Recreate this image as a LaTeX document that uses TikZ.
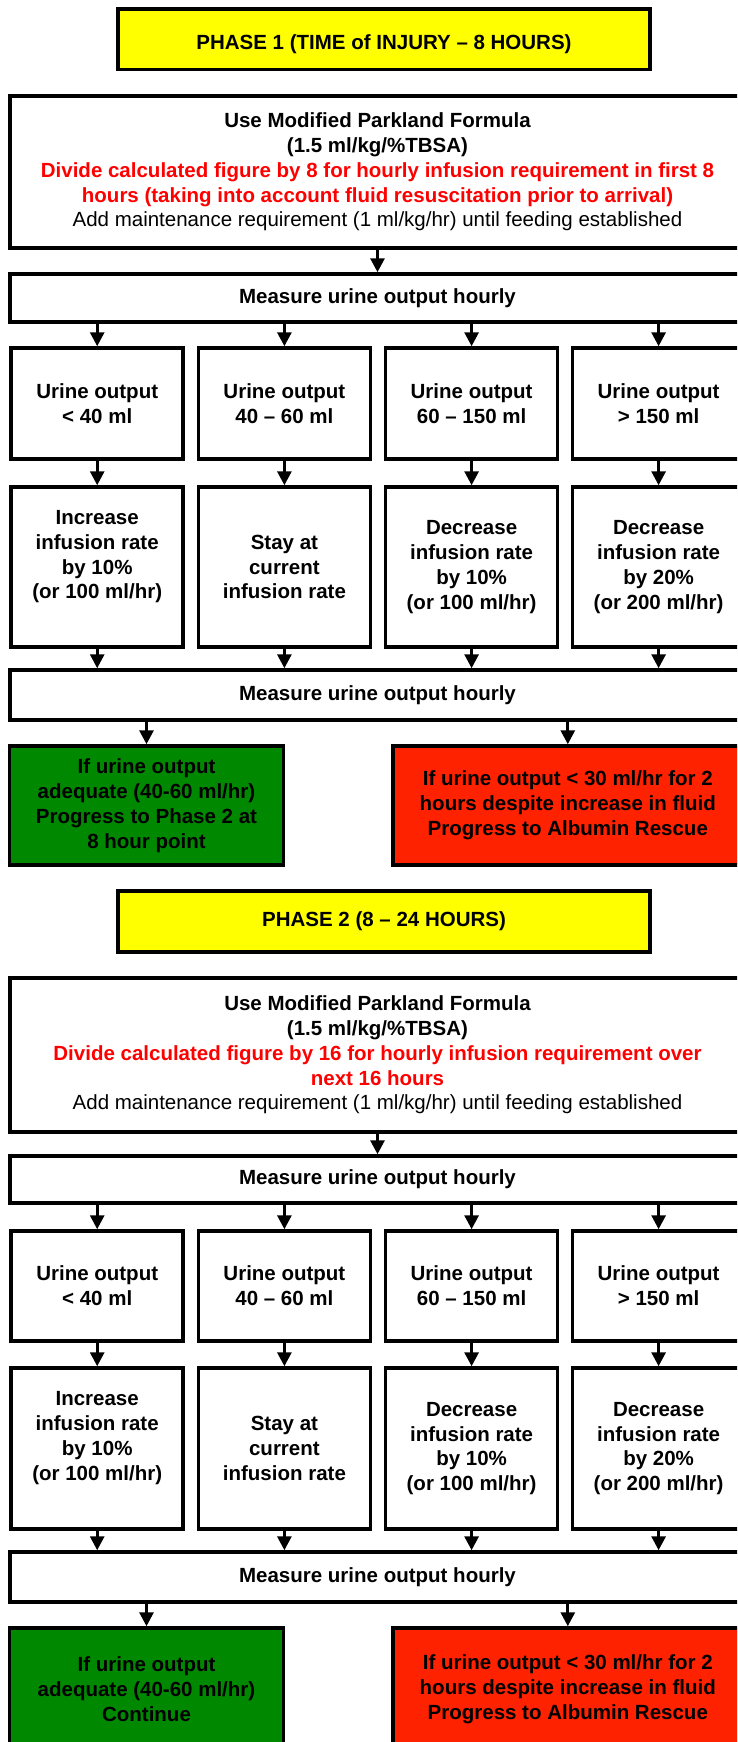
\documentclass[tikz,border=0pt]{standalone}
\usepackage{fontspec}
\setmainfont{Liberation Sans}
\usetikzlibrary{arrows.meta}
\definecolor{phaseyellow}{RGB}{255,255,0}
\definecolor{okgreen}{RGB}{0,136,0}
\definecolor{alertred}{RGB}{255,34,0}
\definecolor{txtred}{RGB}{255,0,0}
\tikzset{
  box/.style={draw=black, line width=3.5pt, fill=white, inner sep=0pt, align=center,
    font=\fontsize{20.5}{24.8}\selectfont\bfseries},
  sz/.style 2 args={minimum width=#1pt, minimum height=#2pt},
  phasebox/.style={box, fill=phaseyellow},
  greenbox/.style={box, fill=okgreen},
  redbox/.style={box, fill=alertred},
  arr/.style={draw=black, line width=3pt, -{Triangle[width=14pt,length=14pt]}},
}
\begin{document}
\begin{tikzpicture}[x=1pt,y=-1pt]
\useasboundingbox (0,0) rectangle (737,1742);
\clip (0,0) rectangle (737,1742);
\fill[white] (0,0) rectangle (737,1742);

% ---------------- PHASE 1 ----------------
\node[phasebox, sz={532}{60.5}] (ph1) at (384,39.25) {\raisebox{-5pt}[\height][\depth]{PHASE 1 (TIME of INJURY -- 8 HOURS)}};
\node[box, sz={735}{152}] (main1) at (377.5,172) {Use Modified Parkland Formula\\(1.5 ml/kg/\%TBSA)\\
  \textcolor{txtred}{Divide calculated figure by 8 for hourly infusion requirement in first 8}\\
  \textcolor{txtred}{hours (taking into account fluid resuscitation prior to arrival)}\\
  {\mdseries Add maintenance requirement (1 ml/kg/hr) until feeding established}};
\node[box, sz={735}{48}] (ma1) at (377.5,298) {Measure urine output hourly};

\node[box, sz={172}{111}] (ua1) at (97.2,403.5) {Urine output\\< 40 ml};
\node[box, sz={172}{111}] (ub1) at (284.4,403.5) {Urine output\\40 -- 60 ml};
\node[box, sz={172}{111}] (uc1) at (471.6,403.5) {Urine output\\60 -- 150 ml};
\node[box, sz={172}{111}] (ud1) at (658.6,403.5) {Urine output\\> 150 ml};

\node[box, sz={172}{160}] (aa1) at (97.2,567) {Increase\\infusion rate\\by 10\%\\(or 100 ml/hr)\\\mbox{}};
\node[box, sz={172}{160}] (ab1) at (284.4,567) {Stay at\\current\\infusion rate};
\node[box, sz={172}{160}] (ac1) at (471.6,567) {Decrease\\infusion rate\\by 10\%\\(or 100 ml/hr)};
\node[box, sz={172}{160}] (ad1) at (658.6,567) {Decrease\\infusion rate\\by 20\%\\(or 200 ml/hr)};

\node[box, sz={735}{50}] (mb1) at (377.5,695) {Measure urine output hourly};

\node[greenbox, sz={274}{119}] (g1) at (146.5,805.5) {If urine output\\adequate (40-60 ml/hr)\\Progress to Phase 2 at\\8 hour point};
\node[redbox, sz={349.6}{119}] (r1) at (567.8,805.5) {If urine output < 30 ml/hr for 2\\hours despite increase in fluid\\Progress to Albumin Rescue};

% ---------------- PHASE 2 ----------------
\node[phasebox, sz={532}{61}] (ph2) at (384,921.5) {PHASE 2 (8 -- 24 HOURS)};
\node[box, sz={735}{154}] (main2) at (377.5,1055) {Use Modified Parkland Formula\\(1.5 ml/kg/\%TBSA)\\
  \textcolor{txtred}{Divide calculated figure by 16 for hourly infusion requirement over}\\
  \textcolor{txtred}{next 16 hours}\\
  {\mdseries Add maintenance requirement (1 ml/kg/hr) until feeding established}};
\node[box, sz={735}{47}] (ma2) at (377.5,1179.5) {Measure urine output hourly};

\node[box, sz={172}{110}] (ua2) at (97.2,1286) {Urine output\\< 40 ml};
\node[box, sz={172}{110}] (ub2) at (284.4,1286) {Urine output\\40 -- 60 ml};
\node[box, sz={172}{110}] (uc2) at (471.6,1286) {Urine output\\60 -- 150 ml};
\node[box, sz={172}{110}] (ud2) at (658.6,1286) {Urine output\\> 150 ml};

\node[box, sz={172}{161}] (aa2) at (97.2,1448.5) {Increase\\infusion rate\\by 10\%\\(or 100 ml/hr)\\\mbox{}};
\node[box, sz={172}{161}] (ab2) at (284.4,1448.5) {Stay at\\current\\infusion rate};
\node[box, sz={172}{161}] (ac2) at (471.6,1448.5) {Decrease\\infusion rate\\by 10\%\\(or 100 ml/hr)};
\node[box, sz={172}{161}] (ad2) at (658.6,1448.5) {Decrease\\infusion rate\\by 20\%\\(or 200 ml/hr)};

\node[box, sz={735}{50}] (mb2) at (377.5,1577) {Measure urine output hourly};

\node[greenbox, sz={274}{122}] (g2) at (146.5,1689) {If urine output\\adequate (40-60 ml/hr)\\Continue};
\node[redbox, sz={349.6}{122}] (r2) at (567.8,1689) {If urine output < 30 ml/hr for 2\\hours despite increase in fluid\\Progress to Albumin Rescue};

% ---------------- connectors ----------------
\foreach \p in {1,2}{
  \draw[arr] (main\p.south) -- (ma\p.north);
  \foreach \c in {a,b,c,d}{
    \draw[arr] (ma\p.south -| u\c\p.north) -- (u\c\p.north);
    \draw[arr] (u\c\p.south) -- (a\c\p.north);
    \draw[arr] (a\c\p.south) -- (a\c\p.south |- mb\p.north);
  }
  \draw[arr] (mb\p.south -| g\p.north) -- (g\p.north);
  \draw[arr] (mb\p.south -| r\p.north) -- (r\p.north);
}
\end{tikzpicture}
\end{document}
